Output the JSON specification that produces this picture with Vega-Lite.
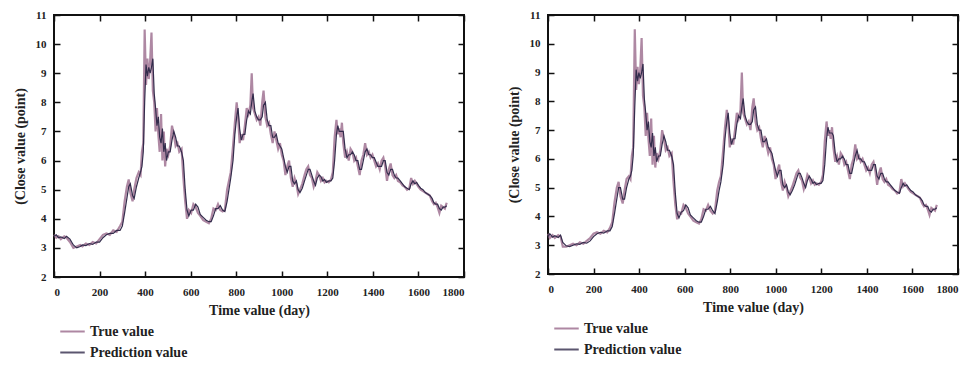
{
  "$schema": "https://vega.github.io/schema/vega-lite/v6.json",
  "padding": {"left": 12, "top": 8, "right": 5, "bottom": 0},
  "background": "white",
  "config": {
    "font": "Liberation Serif",
    "view": {"stroke": "#111", "strokeWidth": 2},
    "axis": {"labelFont": "Liberation Serif", "labelFontWeight": "bold", "labelFontSize": 11, "labelColor": "#222", "titleFont": "Liberation Serif", "titleFontWeight": "bold", "titleFontSize": 14, "titleColor": "#222", "domain": false, "grid": false, "format": "d"},
    "legend": {"labelFont": "Liberation Serif", "labelFontWeight": "bold", "labelFontSize": 14, "labelColor": "#222"}
  },
  "datasets": {
    "L": [
      {"d":0,"t":3.45,"p":3.4},{"d":10,"t":3.35,"p":3.45},{"d":20,"t":3.4,"p":3.35},{"d":30,"t":3.3,"p":3.38},{"d":45,"t":3.4,"p":3.32},{"d":55,"t":3.35,"p":3.4},{"d":70,"t":3.2,"p":3.3},{"d":85,"t":3.0,"p":3.1},{"d":100,"t":3.05,"p":3.0},{"d":115,"t":3.1,"p":3.05},{"d":125,"t":3.05,"p":3.1},{"d":140,"t":3.15,"p":3.08},{"d":155,"t":3.1,"p":3.15},{"d":170,"t":3.2,"p":3.12},{"d":185,"t":3.15,"p":3.2},{"d":200,"t":3.3,"p":3.2},{"d":215,"t":3.45,"p":3.35},{"d":230,"t":3.5,"p":3.45},{"d":245,"t":3.45,"p":3.5},{"d":260,"t":3.6,"p":3.5},{"d":275,"t":3.55,"p":3.6},{"d":290,"t":3.75,"p":3.6},{"d":300,"t":3.9,"p":3.75},{"d":310,"t":4.6,"p":4.2},{"d":320,"t":5.1,"p":4.7},{"d":328,"t":5.35,"p":5.1},{"d":335,"t":4.9,"p":5.2},{"d":345,"t":4.6,"p":4.8},{"d":352,"t":5.0,"p":4.7},{"d":362,"t":5.4,"p":5.1},{"d":372,"t":5.6,"p":5.4},{"d":380,"t":5.5,"p":5.6},{"d":386,"t":6.3,"p":5.8},{"d":392,"t":6.6,"p":6.3},{"d":398,"t":10.5,"p":8.0},{"d":404,"t":8.6,"p":9.3},{"d":410,"t":9.5,"p":8.9},{"d":416,"t":8.8,"p":9.2},{"d":422,"t":9.4,"p":9.0},{"d":428,"t":10.4,"p":9.2},{"d":434,"t":8.4,"p":9.5},{"d":440,"t":8.0,"p":8.3},{"d":446,"t":7.0,"p":7.8},{"d":452,"t":7.8,"p":7.2},{"d":458,"t":6.9,"p":7.5},{"d":464,"t":6.3,"p":6.8},{"d":470,"t":7.6,"p":6.6},{"d":476,"t":6.0,"p":7.1},{"d":482,"t":7.0,"p":6.3},{"d":488,"t":5.8,"p":6.6},{"d":494,"t":6.4,"p":6.0},{"d":502,"t":6.2,"p":6.3},{"d":510,"t":6.5,"p":6.3},{"d":518,"t":7.2,"p":6.7},{"d":526,"t":6.9,"p":7.0},{"d":534,"t":6.5,"p":6.8},{"d":542,"t":6.6,"p":6.5},{"d":550,"t":6.3,"p":6.5},{"d":560,"t":6.4,"p":6.3},{"d":568,"t":5.4,"p":6.0},{"d":576,"t":4.6,"p":5.0},{"d":584,"t":4.0,"p":4.3},{"d":592,"t":4.3,"p":4.1},{"d":602,"t":4.2,"p":4.3},{"d":612,"t":4.5,"p":4.3},{"d":622,"t":4.4,"p":4.5},{"d":632,"t":4.2,"p":4.4},{"d":642,"t":4.1,"p":4.15},{"d":655,"t":3.95,"p":4.05},{"d":668,"t":3.9,"p":3.95},{"d":680,"t":3.85,"p":3.9},{"d":690,"t":4.0,"p":3.9},{"d":700,"t":4.35,"p":4.1},{"d":710,"t":4.3,"p":4.35},{"d":720,"t":4.5,"p":4.35},{"d":730,"t":4.3,"p":4.45},{"d":740,"t":4.25,"p":4.3},{"d":750,"t":4.3,"p":4.25},{"d":760,"t":5.0,"p":4.6},{"d":768,"t":5.3,"p":5.0},{"d":776,"t":5.6,"p":5.4},{"d":786,"t":6.5,"p":6.0},{"d":794,"t":7.3,"p":6.9},{"d":802,"t":8.0,"p":7.5},{"d":808,"t":7.5,"p":7.8},{"d":815,"t":6.6,"p":7.1},{"d":822,"t":6.9,"p":6.7},{"d":830,"t":6.7,"p":6.9},{"d":838,"t":7.2,"p":6.9},{"d":846,"t":7.8,"p":7.4},{"d":854,"t":7.6,"p":7.7},{"d":862,"t":7.9,"p":7.6},{"d":868,"t":9.0,"p":8.0},{"d":874,"t":7.8,"p":8.3},{"d":882,"t":7.6,"p":7.7},{"d":890,"t":7.4,"p":7.5},{"d":898,"t":7.5,"p":7.4},{"d":906,"t":7.2,"p":7.4},{"d":914,"t":8.0,"p":7.5},{"d":920,"t":8.4,"p":7.9},{"d":928,"t":7.5,"p":8.0},{"d":936,"t":7.2,"p":7.4},{"d":944,"t":7.3,"p":7.2},{"d":952,"t":6.9,"p":7.2},{"d":960,"t":6.6,"p":6.8},{"d":968,"t":7.0,"p":6.8},{"d":976,"t":6.7,"p":6.9},{"d":984,"t":6.4,"p":6.6},{"d":992,"t":6.6,"p":6.5},{"d":1000,"t":6.2,"p":6.4},{"d":1008,"t":6.0,"p":6.1},{"d":1016,"t":5.5,"p":5.8},{"d":1024,"t":5.8,"p":5.6},{"d":1032,"t":6.0,"p":5.8},{"d":1040,"t":5.4,"p":5.8},{"d":1048,"t":5.1,"p":5.3},{"d":1056,"t":5.4,"p":5.2},{"d":1064,"t":5.2,"p":5.3},{"d":1072,"t":4.85,"p":5.0},{"d":1080,"t":5.0,"p":4.9},{"d":1090,"t":5.2,"p":5.05},{"d":1100,"t":5.5,"p":5.3},{"d":1108,"t":5.7,"p":5.5},{"d":1116,"t":5.8,"p":5.7},{"d":1124,"t":5.5,"p":5.7},{"d":1132,"t":5.4,"p":5.5},{"d":1140,"t":5.1,"p":5.3},{"d":1148,"t":5.3,"p":5.15},{"d":1156,"t":5.6,"p":5.4},{"d":1164,"t":5.5,"p":5.5},{"d":1172,"t":5.3,"p":5.45},{"d":1180,"t":5.4,"p":5.3},{"d":1188,"t":5.25,"p":5.35},{"d":1196,"t":5.3,"p":5.25},{"d":1206,"t":5.25,"p":5.3},{"d":1216,"t":5.35,"p":5.3},{"d":1224,"t":5.6,"p":5.4},{"d":1232,"t":6.8,"p":6.0},{"d":1240,"t":7.4,"p":6.9},{"d":1246,"t":6.9,"p":7.2},{"d":1252,"t":7.1,"p":7.0},{"d":1258,"t":6.8,"p":7.0},{"d":1264,"t":7.3,"p":7.0},{"d":1270,"t":6.6,"p":7.0},{"d":1278,"t":6.1,"p":6.4},{"d":1286,"t":6.3,"p":6.1},{"d":1294,"t":6.0,"p":6.2},{"d":1302,"t":6.4,"p":6.2},{"d":1310,"t":6.3,"p":6.3},{"d":1318,"t":6.0,"p":6.2},{"d":1326,"t":6.1,"p":6.0},{"d":1334,"t":5.8,"p":6.0},{"d":1342,"t":5.5,"p":5.7},{"d":1350,"t":6.0,"p":5.7},{"d":1358,"t":6.2,"p":6.0},{"d":1366,"t":6.6,"p":6.3},{"d":1374,"t":6.2,"p":6.4},{"d":1382,"t":6.3,"p":6.2},{"d":1390,"t":6.1,"p":6.2},{"d":1398,"t":6.2,"p":6.1},{"d":1406,"t":6.0,"p":6.1},{"d":1414,"t":5.8,"p":5.95},{"d":1422,"t":5.9,"p":5.8},{"d":1430,"t":5.7,"p":5.8},{"d":1438,"t":6.0,"p":5.8},{"d":1446,"t":6.1,"p":6.0},{"d":1454,"t":5.8,"p":6.0},{"d":1462,"t":5.3,"p":5.6},{"d":1470,"t":5.7,"p":5.5},{"d":1478,"t":5.9,"p":5.7},{"d":1486,"t":5.5,"p":5.7},{"d":1494,"t":5.4,"p":5.5},{"d":1502,"t":5.5,"p":5.4},{"d":1510,"t":5.3,"p":5.4},{"d":1520,"t":5.25,"p":5.3},{"d":1530,"t":5.15,"p":5.2},{"d":1540,"t":5.1,"p":5.1},{"d":1550,"t":5.0,"p":5.05},{"d":1560,"t":5.05,"p":5.0},{"d":1568,"t":5.4,"p":5.2},{"d":1576,"t":5.2,"p":5.3},{"d":1584,"t":5.3,"p":5.2},{"d":1592,"t":5.2,"p":5.25},{"d":1600,"t":5.1,"p":5.15},{"d":1610,"t":5.0,"p":5.05},{"d":1620,"t":4.95,"p":5.0},{"d":1630,"t":4.9,"p":4.9},{"d":1640,"t":4.85,"p":4.85},{"d":1650,"t":4.8,"p":4.8},{"d":1660,"t":4.6,"p":4.7},{"d":1668,"t":4.5,"p":4.55},{"d":1676,"t":4.55,"p":4.5},{"d":1684,"t":4.4,"p":4.5},{"d":1692,"t":4.2,"p":4.35},{"d":1700,"t":4.45,"p":4.3},{"d":1708,"t":4.4,"p":4.4},{"d":1716,"t":4.35,"p":4.4},{"d":1724,"t":4.55,"p":4.45}
    ],
    "R": [
      {"d":0,"t":3.4,"p":3.3},{"d":8,"t":3.25,"p":3.4},{"d":20,"t":3.35,"p":3.28},{"d":30,"t":3.25,"p":3.33},{"d":45,"t":3.35,"p":3.27},{"d":55,"t":3.3,"p":3.35},{"d":65,"t":2.95,"p":3.1},{"d":80,"t":2.95,"p":2.98},{"d":95,"t":3.0,"p":2.95},{"d":110,"t":3.05,"p":3.0},{"d":125,"t":3.0,"p":3.05},{"d":140,"t":3.1,"p":3.03},{"d":155,"t":3.05,"p":3.1},{"d":170,"t":3.15,"p":3.07},{"d":185,"t":3.25,"p":3.15},{"d":200,"t":3.4,"p":3.3},{"d":215,"t":3.45,"p":3.4},{"d":230,"t":3.4,"p":3.45},{"d":245,"t":3.5,"p":3.42},{"d":260,"t":3.45,"p":3.5},{"d":272,"t":3.6,"p":3.5},{"d":282,"t":3.8,"p":3.65},{"d":292,"t":4.5,"p":4.1},{"d":302,"t":5.0,"p":4.6},{"d":310,"t":5.2,"p":5.0},{"d":318,"t":4.7,"p":5.0},{"d":328,"t":4.45,"p":4.6},{"d":336,"t":4.9,"p":4.6},{"d":345,"t":5.3,"p":5.0},{"d":355,"t":5.4,"p":5.3},{"d":362,"t":5.3,"p":5.4},{"d":368,"t":6.1,"p":5.6},{"d":374,"t":6.4,"p":6.1},{"d":381,"t":10.5,"p":7.8},{"d":387,"t":8.4,"p":9.1},{"d":393,"t":9.2,"p":8.7},{"d":399,"t":8.6,"p":9.0},{"d":405,"t":9.1,"p":8.8},{"d":411,"t":10.2,"p":9.0},{"d":417,"t":8.2,"p":9.3},{"d":423,"t":7.8,"p":8.1},{"d":429,"t":6.8,"p":7.6},{"d":435,"t":7.6,"p":7.0},{"d":441,"t":6.7,"p":7.3},{"d":447,"t":6.1,"p":6.6},{"d":453,"t":7.4,"p":6.4},{"d":459,"t":5.8,"p":6.9},{"d":465,"t":6.8,"p":6.1},{"d":471,"t":5.7,"p":6.4},{"d":477,"t":6.2,"p":5.9},{"d":485,"t":6.0,"p":6.1},{"d":493,"t":6.3,"p":6.1},{"d":501,"t":7.0,"p":6.5},{"d":509,"t":6.7,"p":6.8},{"d":517,"t":6.3,"p":6.6},{"d":525,"t":6.4,"p":6.3},{"d":533,"t":6.1,"p":6.3},{"d":543,"t":6.2,"p":6.1},{"d":551,"t":5.2,"p":5.8},{"d":559,"t":4.4,"p":4.8},{"d":567,"t":3.9,"p":4.1},{"d":575,"t":4.15,"p":3.95},{"d":585,"t":4.1,"p":4.15},{"d":595,"t":4.4,"p":4.2},{"d":605,"t":4.3,"p":4.4},{"d":615,"t":4.1,"p":4.3},{"d":625,"t":4.0,"p":4.05},{"d":638,"t":3.85,"p":3.95},{"d":651,"t":3.8,"p":3.85},{"d":663,"t":3.75,"p":3.8},{"d":673,"t":3.9,"p":3.8},{"d":683,"t":4.25,"p":4.0},{"d":693,"t":4.2,"p":4.25},{"d":703,"t":4.4,"p":4.25},{"d":713,"t":4.2,"p":4.35},{"d":723,"t":4.1,"p":4.2},{"d":733,"t":4.2,"p":4.1},{"d":743,"t":4.9,"p":4.5},{"d":751,"t":5.2,"p":4.9},{"d":759,"t":5.4,"p":5.2},{"d":769,"t":6.3,"p":5.8},{"d":777,"t":7.1,"p":6.7},{"d":785,"t":7.7,"p":7.3},{"d":791,"t":7.3,"p":7.6},{"d":798,"t":6.4,"p":6.9},{"d":805,"t":6.7,"p":6.5},{"d":813,"t":6.5,"p":6.7},{"d":821,"t":7.0,"p":6.7},{"d":829,"t":7.6,"p":7.2},{"d":837,"t":7.4,"p":7.5},{"d":845,"t":7.7,"p":7.4},{"d":851,"t":9.0,"p":7.8},{"d":857,"t":7.6,"p":8.1},{"d":865,"t":7.4,"p":7.5},{"d":873,"t":7.2,"p":7.3},{"d":881,"t":7.3,"p":7.2},{"d":889,"t":7.0,"p":7.2},{"d":897,"t":7.8,"p":7.3},{"d":903,"t":8.1,"p":7.7},{"d":911,"t":7.3,"p":7.8},{"d":919,"t":7.0,"p":7.2},{"d":927,"t":7.1,"p":7.0},{"d":935,"t":6.7,"p":7.0},{"d":943,"t":6.4,"p":6.6},{"d":951,"t":6.8,"p":6.6},{"d":959,"t":6.5,"p":6.7},{"d":967,"t":6.2,"p":6.4},{"d":975,"t":6.4,"p":6.3},{"d":983,"t":6.0,"p":6.2},{"d":991,"t":5.8,"p":5.9},{"d":999,"t":5.3,"p":5.6},{"d":1007,"t":5.6,"p":5.4},{"d":1015,"t":5.8,"p":5.6},{"d":1023,"t":5.2,"p":5.6},{"d":1031,"t":4.9,"p":5.1},{"d":1039,"t":5.2,"p":5.0},{"d":1047,"t":5.0,"p":5.1},{"d":1055,"t":4.7,"p":4.85},{"d":1063,"t":4.85,"p":4.75},{"d":1073,"t":5.05,"p":4.9},{"d":1083,"t":5.3,"p":5.1},{"d":1091,"t":5.5,"p":5.3},{"d":1099,"t":5.6,"p":5.5},{"d":1107,"t":5.35,"p":5.5},{"d":1115,"t":5.25,"p":5.35},{"d":1123,"t":4.95,"p":5.15},{"d":1131,"t":5.15,"p":5.0},{"d":1139,"t":5.45,"p":5.25},{"d":1147,"t":5.35,"p":5.4},{"d":1155,"t":5.15,"p":5.3},{"d":1163,"t":5.25,"p":5.15},{"d":1171,"t":5.1,"p":5.2},{"d":1179,"t":5.15,"p":5.1},{"d":1189,"t":5.1,"p":5.15},{"d":1199,"t":5.2,"p":5.15},{"d":1207,"t":5.45,"p":5.25},{"d":1215,"t":6.6,"p":5.8},{"d":1223,"t":7.3,"p":6.7},{"d":1229,"t":6.8,"p":7.1},{"d":1235,"t":7.0,"p":6.9},{"d":1241,"t":6.7,"p":6.9},{"d":1247,"t":7.1,"p":6.9},{"d":1253,"t":6.4,"p":6.8},{"d":1261,"t":5.9,"p":6.2},{"d":1269,"t":6.1,"p":5.9},{"d":1277,"t":5.8,"p":6.0},{"d":1285,"t":6.2,"p":6.0},{"d":1293,"t":6.1,"p":6.1},{"d":1301,"t":5.8,"p":6.0},{"d":1309,"t":5.9,"p":5.8},{"d":1317,"t":5.6,"p":5.8},{"d":1325,"t":5.3,"p":5.5},{"d":1333,"t":5.8,"p":5.5},{"d":1341,"t":6.0,"p":5.8},{"d":1349,"t":6.5,"p":6.1},{"d":1357,"t":6.0,"p":6.3},{"d":1365,"t":6.1,"p":6.0},{"d":1373,"t":5.9,"p":6.0},{"d":1381,"t":6.0,"p":5.9},{"d":1389,"t":5.8,"p":5.9},{"d":1397,"t":5.6,"p":5.75},{"d":1405,"t":5.7,"p":5.6},{"d":1413,"t":5.5,"p":5.6},{"d":1421,"t":5.8,"p":5.6},{"d":1429,"t":5.9,"p":5.8},{"d":1437,"t":5.6,"p":5.8},{"d":1445,"t":5.1,"p":5.4},{"d":1453,"t":5.5,"p":5.3},{"d":1461,"t":5.7,"p":5.5},{"d":1469,"t":5.3,"p":5.5},{"d":1477,"t":5.2,"p":5.3},{"d":1485,"t":5.3,"p":5.2},{"d":1493,"t":5.1,"p":5.2},{"d":1503,"t":5.05,"p":5.1},{"d":1513,"t":4.95,"p":5.0},{"d":1523,"t":4.9,"p":4.9},{"d":1533,"t":4.8,"p":4.85},{"d":1543,"t":4.85,"p":4.8},{"d":1551,"t":5.3,"p":5.0},{"d":1559,"t":5.05,"p":5.15},{"d":1567,"t":5.15,"p":5.05},{"d":1575,"t":5.05,"p":5.1},{"d":1583,"t":4.95,"p":5.0},{"d":1593,"t":4.85,"p":4.9},{"d":1603,"t":4.8,"p":4.85},{"d":1613,"t":4.75,"p":4.75},{"d":1623,"t":4.7,"p":4.7},{"d":1633,"t":4.65,"p":4.65},{"d":1643,"t":4.45,"p":4.55},{"d":1651,"t":4.35,"p":4.4},{"d":1659,"t":4.4,"p":4.35},{"d":1667,"t":4.25,"p":4.35},{"d":1675,"t":4.05,"p":4.2},{"d":1683,"t":4.3,"p":4.15},{"d":1691,"t":4.25,"p":4.25},{"d":1699,"t":4.2,"p":4.25},{"d":1707,"t":4.4,"p":4.3}
    ]
  },
  "spacing": 40,
  "resolve": {"legend": {"color": "independent"}, "scale": {"color": "independent"}},
  "hconcat": [
    {
      "width": 410, "height": 262,
      "data": {"name": "L"},
      "resolve": {"axis": {"x": "independent", "y": "independent"}},
      "layer": [
        {
          "mark": {"type": "line", "strokeWidth": 2.2, "opacity": 0.8},
          "encoding": {
            "x": {"field": "d", "type": "quantitative", "scale": {"domain": [0, 1800], "nice": false}, "axis": {"orient": "bottom", "ticks": true, "tickSize": 6, "offset": -6, "tickColor": "#111", "tickWidth": 1.5, "zindex": 1, "values": [0,200,400,600,800,1000,1200,1400,1600,1800], "title": "Time value (day)", "labelPadding": 9, "titlePadding": 6}},
            "y": {"field": "t", "type": "quantitative", "scale": {"domain": [2, 11], "nice": false}, "axis": {"orient": "left", "ticks": true, "tickSize": 6, "offset": -6, "tickColor": "#111", "tickWidth": 1.5, "zindex": 1, "values": [2,3,4,5,6,7,8,9,10,11], "title": "(Close value (point)", "labelPadding": 8, "titlePadding": 8}},
            "color": {"datum": "True value", "type": "nominal", "scale": {"domain": ["True value", "Prediction value"], "range": ["#9a6a8c", "#332c4c"]}, "legend": {"title": null, "orient": "bottom", "direction": "vertical", "symbolType": "stroke", "symbolSize": 600, "symbolStrokeWidth": 2, "rowPadding": 0, "offset": -4, "padding": 5}}
          }
        },
        {
          "mark": {"type": "line", "strokeWidth": 1.2},
          "encoding": {
            "x": {"field": "d", "type": "quantitative", "axis": null},
            "y": {"field": "p", "type": "quantitative", "axis": null},
            "color": {"datum": "Prediction value", "type": "nominal"}
          }
        },
        {
          "mark": {"type": "line", "opacity": 0},
          "encoding": {
            "x": {"field": "d", "type": "quantitative", "axis": {"orient": "top", "ticks": true, "tickSize": 6, "offset": -6, "tickColor": "#111", "tickWidth": 1.5, "zindex": 1, "labels": false, "title": null, "values": [0,200,400,600,800,1000,1200,1400,1600,1800]}},
            "y": {"field": "p", "type": "quantitative", "axis": {"orient": "right", "ticks": true, "tickSize": 6, "offset": -6, "tickColor": "#111", "tickWidth": 1.5, "zindex": 1, "labels": false, "title": null, "values": [2,3,4,5,6,7,8,9,10,11]}}
          }
        }
      ]
    },
    {
      "width": 410, "height": 259,
      "data": {"name": "R"},
      "resolve": {"axis": {"x": "independent", "y": "independent"}},
      "layer": [
        {
          "mark": {"type": "line", "strokeWidth": 2.2, "opacity": 0.8},
          "encoding": {
            "x": {"field": "d", "type": "quantitative", "scale": {"domain": [0, 1800], "nice": false}, "axis": {"orient": "bottom", "ticks": true, "tickSize": 6, "offset": -6, "tickColor": "#111", "tickWidth": 1.5, "zindex": 1, "values": [0,200,400,600,800,1000,1200,1400,1600,1800], "title": "Time value (day)", "labelPadding": 9, "titlePadding": 6}},
            "y": {"field": "t", "type": "quantitative", "scale": {"domain": [2, 11], "nice": false}, "axis": {"orient": "left", "ticks": true, "tickSize": 6, "offset": -6, "tickColor": "#111", "tickWidth": 1.5, "zindex": 1, "values": [2,3,4,5,6,7,8,9,10,11], "title": "(Close value (point)", "labelPadding": 8, "titlePadding": 8}},
            "color": {"datum": "True value", "type": "nominal", "scale": {"domain": ["True value", "Prediction value"], "range": ["#9a6a8c", "#332c4c"]}, "legend": {"title": null, "orient": "bottom", "direction": "vertical", "symbolType": "stroke", "symbolSize": 600, "symbolStrokeWidth": 2, "rowPadding": 0, "offset": -4, "padding": 5}}
          }
        },
        {
          "mark": {"type": "line", "strokeWidth": 1.2},
          "encoding": {
            "x": {"field": "d", "type": "quantitative", "axis": null},
            "y": {"field": "p", "type": "quantitative", "axis": null},
            "color": {"datum": "Prediction value", "type": "nominal"}
          }
        },
        {
          "mark": {"type": "line", "opacity": 0},
          "encoding": {
            "x": {"field": "d", "type": "quantitative", "axis": {"orient": "top", "ticks": true, "tickSize": 6, "offset": -6, "tickColor": "#111", "tickWidth": 1.5, "zindex": 1, "labels": false, "title": null, "values": [0,200,400,600,800,1000,1200,1400,1600,1800]}},
            "y": {"field": "p", "type": "quantitative", "axis": {"orient": "right", "ticks": true, "tickSize": 6, "offset": -6, "tickColor": "#111", "tickWidth": 1.5, "zindex": 1, "labels": false, "title": null, "values": [2,3,4,5,6,7,8,9,10,11]}}
          }
        }
      ]
    }
  ]
}
